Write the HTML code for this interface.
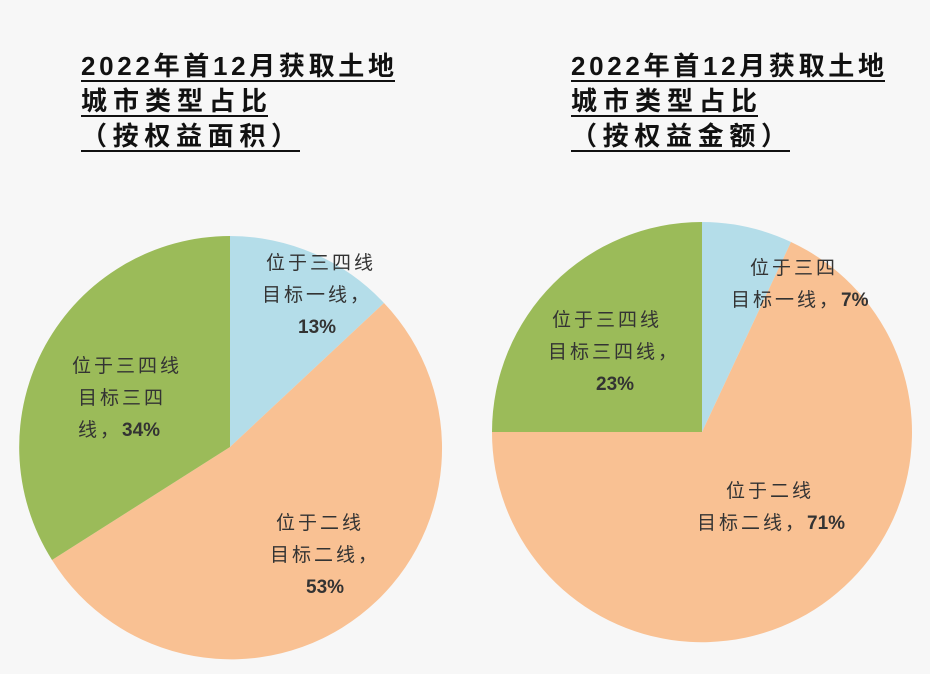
<!DOCTYPE html>
<html><head><meta charset="utf-8"><style>
html,body{margin:0;padding:0;background:#f7f7f7;}
svg{display:block}
.n{letter-spacing:0}
</style></head><body>
<svg width="930" height="674" viewBox="0 0 930 674" xmlns="http://www.w3.org/2000/svg">
<rect width="930" height="674" fill="#f7f7f7"/>
<g font-family="Liberation Sans, Noto Sans CJK SC, sans-serif" font-weight="bold" font-size="26" fill="#111">
<text x="81" y="75" textLength="313" lengthAdjust="spacing">2022年首12月获取土地</text>
<text x="81" y="110" textLength="186" lengthAdjust="spacing">城市类型占比</text>
<text x="81" y="145" textLength="216" lengthAdjust="spacing">（按权益面积）</text>
<text x="571" y="75" textLength="313" lengthAdjust="spacing">2022年首12月获取土地</text>
<text x="571" y="110" textLength="186" lengthAdjust="spacing">城市类型占比</text>
<text x="571" y="145" textLength="216" lengthAdjust="spacing">（按权益金额）</text>
</g>
<g stroke="#111" stroke-width="2">
<line x1="81" y1="81" x2="395" y2="81"/>
<line x1="81" y1="116" x2="268" y2="116"/>
<line x1="81" y1="151" x2="300" y2="151"/>
<line x1="571" y1="81" x2="885" y2="81"/>
<line x1="571" y1="116" x2="758" y2="116"/>
<line x1="571" y1="151" x2="790" y2="151"/>
</g>
<path d="M230,447 L230,236 A211,211 0 0,1 384,303 Z" fill="#b4dde9"/>
<path d="M230,447 L384,303 A211,211 0 1,1 52,560 Z" fill="#f9c193"/>
<path d="M230,447 L52,560 A211,211 0 0,1 230,236 Z" fill="#9bbb59"/>
<path d="M702,432 L702,222 A210,210 0 0,1 791,242 Z" fill="#b4dde9"/>
<path d="M702,432 L791,242 A210,210 0 1,1 492,432 Z" fill="#f9c193"/>
<path d="M702,432 L492,432 A210,210 0 0,1 702,222 Z" fill="#9bbb59"/>
<g font-family="Liberation Sans, Noto Sans CJK SC, sans-serif" font-size="19" fill="#333" letter-spacing="3">
<text x="266" y="269">位于三四线</text>
<text x="262" y="301">目标一线，</text>
<text x="298" y="333" class="n" font-weight="bold">13%</text>
<text x="72" y="372">位于三四线</text>
<text x="78" y="404">目标三四</text>
<text x="78" y="436">线，<tspan class="n" font-weight="bold">34%</tspan></text>
<text x="276" y="529">位于二线</text>
<text x="270" y="561">目标二线，</text>
<text x="306" y="593" class="n" font-weight="bold">53%</text>
<text x="750" y="274">位于三四</text>
<text x="731" y="306">目标一线，<tspan class="n" font-weight="bold">7%</tspan></text>
<text x="552" y="326">位于三四线</text>
<text x="548" y="358">目标三四线，</text>
<text x="596" y="390" class="n" font-weight="bold">23%</text>
<text x="726" y="497">位于二线</text>
<text x="697" y="529">目标二线，<tspan class="n" font-weight="bold">71%</tspan></text>
</g>
</svg>
</body></html>
